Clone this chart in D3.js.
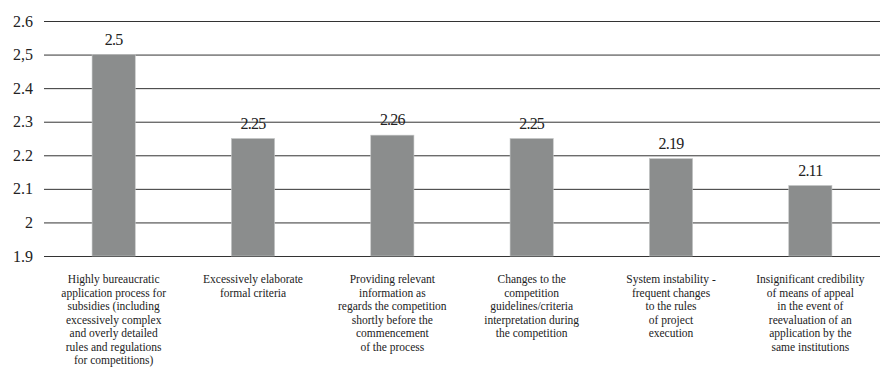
<!DOCTYPE html>
<html>
<head>
<meta charset="utf-8">
<script src="https://cdn.jsdelivr.net/npm/d3@7/dist/d3.min.js"></script>
<style>
  body { margin: 0; background: #fff; }
</style>
</head>
<body>
<svg id="chart" width="882" height="371"></svg>
<script>
// categories, each one split into its printed lines
var categories = [
  ["Highly bureaucratic", "application process for", "subsidies (including", "excessively complex", "and overly detailed", "rules and regulations", "for competitions)"],
  ["Excessively elaborate", "formal criteria"],
  ["Providing relevant", "information as", "regards the competition", "shortly before the", "commencement", "of the process"],
  ["Changes to the", "competition", "guidelines/criteria", "interpretation during", "the competition"],
  ["System instability -", "frequent changes", "to the rules", "of project", "execution"],
  ["Insignificant credibility", "of means of appeal", "in the event of", "reevaluation of an", "application by the", "same institutions"]
];
var values = [2.5, 2.25, 2.26, 2.25, 2.19, 2.11];
var valueLabels = ["2.5", "2.25", "2.26", "2.25", "2.19", "2.11"];
var tickValues = [1.9, 2, 2.1, 2.2, 2.3, 2.4, 2.5, 2.6];
var tickLabels = ["1.9", "2", "2.1", "2.2", "2.3", "2.4", "2,5", "2.6"];

var FONT = "Liberation Serif";
var svg = d3.select("#chart");
var plotLeft = 44, plotRight = 880, plotTop = 21, plotBottom = 256;

var x = d3.scaleBand()
  .domain(d3.range(values.length))
  .range([plotLeft, plotRight])
  .paddingInner(0.69)
  .paddingOuter(0.345);

var y = d3.scaleLinear().domain([1.9, 2.6]).range([plotBottom, plotTop]);

// gridlines + tick labels
var yAxis = d3.axisLeft(y)
  .tickValues(tickValues)
  .tickSize(-(plotRight - plotLeft))
  .tickPadding(11)
  .tickFormat(function(d, i) { return tickLabels[i]; });

var g = svg.append("g")
  .attr("transform", "translate(" + plotLeft + ",0)")
  .call(yAxis)
  .attr("font-family", FONT)
  .attr("font-size", 16);
g.select(".domain").remove();
g.selectAll(".tick line").attr("stroke", "#333").attr("stroke-width", 1);
g.selectAll(".tick text").attr("fill", "#222");

// bars
svg.selectAll("rect.bar")
  .data(values)
  .enter()
  .append("rect")
  .attr("class", "bar")
  .attr("x", function(d, i) { return x(i); })
  .attr("width", x.bandwidth())
  .attr("y", function(d) { return y(d); })
  .attr("height", function(d) { return y(1.9) - y(d); })
  .attr("fill", "#8b8d8d")
  .attr("stroke", "#c4c6c6")
  .attr("stroke-width", 0.6);

// value labels
svg.selectAll("text.val")
  .data(values)
  .enter()
  .append("text")
  .attr("class", "val")
  .attr("x", function(d, i) { return x(i) + x.bandwidth() / 2; })
  .attr("y", function(d) { return y(d) - 10; })
  .attr("text-anchor", "middle")
  .attr("font-family", FONT)
  .attr("font-size", 16)
  .attr("letter-spacing", "-0.8")
  .attr("fill", "#222")
  .text(function(d, i) { return valueLabels[i]; });

// category labels
var cat = svg.selectAll("text.cat")
  .data(categories)
  .enter()
  .append("text")
  .attr("class", "cat")
  .attr("text-anchor", "middle")
  .attr("font-family", FONT)
  .attr("font-size", 11.5)
  .attr("fill", "#222");

cat.selectAll("tspan")
  .data(function(d, i) { return d.map(function(line) { return { line: line, i: i }; }); })
  .enter()
  .append("tspan")
  .attr("x", function(d) { return x(d.i) + x.bandwidth() / 2; })
  .attr("y", function(d, j) { return 283 + j * 13.5; })
  .text(function(d) { return d.line; });
</script>
</body>
</html>
